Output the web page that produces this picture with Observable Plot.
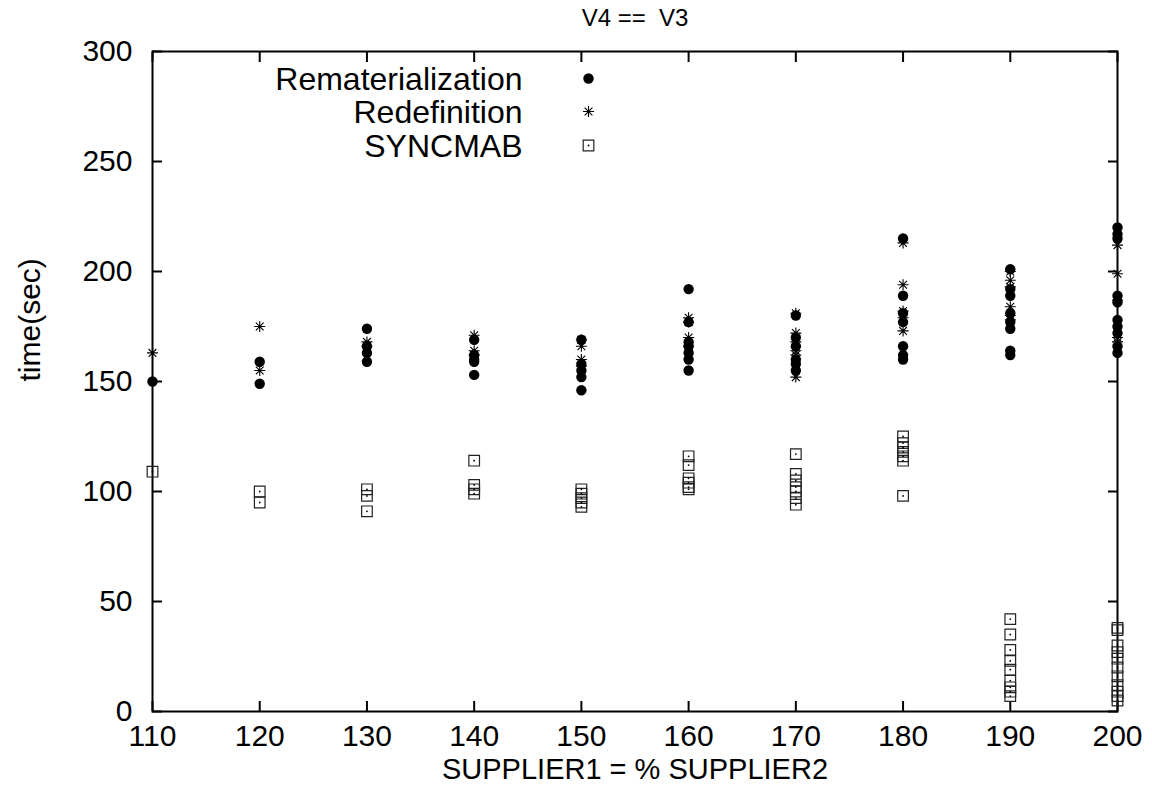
<!DOCTYPE html>
<html><head><meta charset="utf-8">
<script src="https://cdn.jsdelivr.net/npm/d3@7"></script>
<script src="https://cdn.jsdelivr.net/npm/@observablehq/plot@0.6"></script>
<style>body{margin:0;background:#fff;} #chart{width:1152px;height:794px;}</style>
</head><body><div id="chart"></div>
<script>
const xTicks = [110, 120, 130, 140, 150, 160, 170, 180, 190, 200];
const yTicks = [0, 50, 100, 150, 200, 250, 300];
const seriesNames = ["Rematerialization", "Redefinition", "SYNCMAB"];

const rematerialization = [
  [110, [150]],
  [120, [159, 149]],
  [130, [174, 166, 163, 159]],
  [140, [169, 162, 160, 159, 153]],
  [150, [169, 158, 155, 152, 146]],
  [160, [192, 177, 168, 166, 163, 160, 155]],
  [170, [180, 170, 166, 160, 158, 155]],
  [180, [215, 189, 181, 177, 166, 162, 160]],
  [190, [201, 192, 189, 181, 177, 174, 164, 162]],
  [200, [220, 217, 215, 189, 186, 178, 175, 172, 166, 163]]
];
const redefinition = [
  [110, [163]],
  [120, [175, 155]],
  [130, [168, 166]],
  [140, [171, 164, 162]],
  [150, [169, 166, 160, 157]],
  [160, [179, 177, 170, 166]],
  [170, [181, 172, 168, 164, 162, 152]],
  [180, [213, 194, 182, 179, 173]],
  [190, [200, 196, 193, 184, 180, 178]],
  [200, [212, 199, 187, 170, 168]]
];
const syncmab = [
  [110, [109]],
  [120, [100, 95]],
  [130, [101, 98, 91]],
  [140, [114, 103, 101, 99]],
  [150, [101, 99, 97, 95, 93]],
  [160, [116, 112, 106, 104, 102, 101]],
  [170, [117, 108, 105, 102, 100, 97, 94]],
  [180, [125, 122, 120, 118, 116, 114, 98]],
  [190, [42, 35, 28, 23, 19, 14, 11, 9, 7]],
  [200, [38, 37, 30, 27, 24, 20, 16, 12, 9, 7, 5]]
];

const flat = (groups) => groups.flatMap(([x, ys]) => ys.map((y) => ({x, y})));
const remRows = flat(rematerialization);
const redRows = flat(redefinition);
const synRows = flat(syncmab);

const star = {
  draw(ctx, size) {
    const r = Math.sqrt(size / Math.PI);
    const d = r * Math.SQRT1_2;
    ctx.moveTo(-r, 0); ctx.lineTo(r, 0);
    ctx.moveTo(0, -r); ctx.lineTo(0, r);
    ctx.moveTo(-d, -d); ctx.lineTo(d, d);
    ctx.moveTo(-d, d); ctx.lineTo(d, -d);
  }
};

const FS = 30;
const LFS = 32;
const font = "Liberation Sans, Arial, Helvetica, sans-serif";

const chart = Plot.plot({
  width: 1152, height: 794,
  marginLeft: 152, marginRight: 35, marginTop: 51, marginBottom: 83,
  style: {fontFamily: font, fontSize: FS + "px", color: "#000", background: "#fff"},
  x: {domain: [110, 200]},
  y: {domain: [0, 300]},
  marks: [
    Plot.frame({stroke: "#000", strokeWidth: 2}),
    Plot.axisX(xTicks, {anchor: "bottom", tickSize: -10, tickPadding: 23, label: null, fontSize: FS, strokeWidth: 2}),
    Plot.axisX(xTicks, {anchor: "top", tickSize: -10, tickFormat: () => "", label: null, strokeWidth: 2}),
    Plot.axisY(yTicks, {anchor: "left", tickSize: -10, tickPadding: 30, label: null, fontSize: FS, strokeWidth: 2}),
    Plot.axisY(yTicks, {anchor: "right", tickSize: -10, tickFormat: () => "", label: null, strokeWidth: 2}),
    Plot.dot(remRows, {x: "x", y: "y", r: 5.2, fill: "#000", symbol: "circle"}),
    Plot.dot(redRows, {x: "x", y: "y", r: 5.5, stroke: "#000", strokeWidth: 1.1, symbol: star}),
    Plot.dot(synRows, {x: "x", y: "y", r: 6.0, stroke: "#222", strokeWidth: 1.2, fill: "none", symbol: "square"}),
    Plot.dot(synRows, {x: "x", y: "y", r: 0.9, fill: "#000"}),
    // title and axis labels
    Plot.text(["V4 ==\u00a0 V3"], {frameAnchor: "top", lineAnchor: "middle", dy: -33, fontSize: 24}),
    Plot.text(["SUPPLIER1 = % SUPPLIER2"], {frameAnchor: "bottom", lineAnchor: "middle", dy: 58, fontSize: 29}),
    Plot.text(["time(sec)"], {frameAnchor: "left", lineAnchor: "middle", dx: -122, rotate: -90, fontSize: FS}),
    // legend
    Plot.text([seriesNames[0]], {frameAnchor: "top-left", lineAnchor: "middle", dx: 370, dy: 28, textAnchor: "end", fontSize: LFS}),
    Plot.text([seriesNames[1]], {frameAnchor: "top-left", lineAnchor: "middle", dx: 370, dy: 61, textAnchor: "end", fontSize: LFS}),
    Plot.text([seriesNames[2]], {frameAnchor: "top-left", lineAnchor: "middle", dx: 370, dy: 95, textAnchor: "end", fontSize: LFS}),
    Plot.dot([seriesNames[0]], {frameAnchor: "top-left", dx: 436, dy: 27, r: 5.2, fill: "#000"}),
    Plot.dot([seriesNames[1]], {frameAnchor: "top-left", dx: 436, dy: 60, r: 5.5, stroke: "#000", strokeWidth: 1.1, symbol: star}),
    Plot.dot([seriesNames[2]], {frameAnchor: "top-left", dx: 436, dy: 94, r: 6.0, stroke: "#222", strokeWidth: 1.2, fill: "none", symbol: "square"}),
    Plot.dot([seriesNames[2]], {frameAnchor: "top-left", dx: 436, dy: 94, r: 0.9, fill: "#000"})
  ]
});
document.getElementById("chart").appendChild(chart);
</script>
</body></html>
